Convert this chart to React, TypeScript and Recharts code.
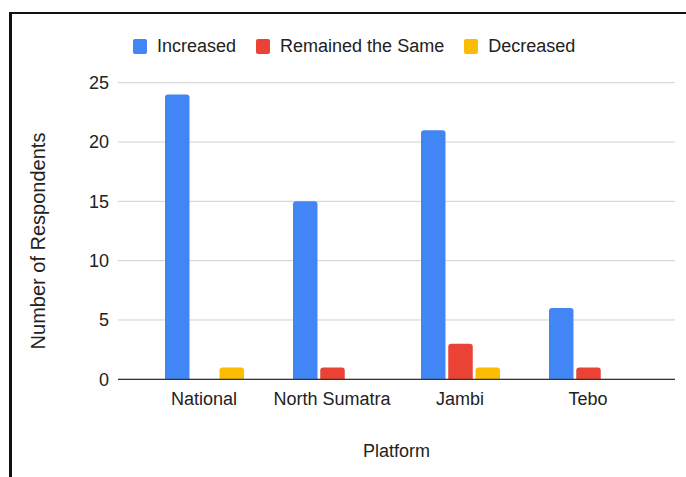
import React from "react";
import {
	BarChart,
	Bar,
	XAxis,
	YAxis,
	CartesianGrid,
	Legend,
	Label,
} from "recharts";

// Survey answers per platform
const platforms = ["National", "North Sumatra", "Jambi", "Tebo"];
const increased = [24, 15, 21, 6];
const remainedSame = [0, 1, 3, 1];
const decreased = [1, 0, 1, 0];
const yTicks = [0, 5, 10, 15, 20, 25];

const series = [
	{ key: "increased", name: "Increased", color: "#4285F4" },
	{ key: "remainedSame", name: "Remained the Same", color: "#EA4335" },
	{ key: "decreased", name: "Decreased", color: "#FBBC04" },
];

const data = platforms.map((platform, i) => ({
	platform,
	increased: increased[i],
	remainedSame: remainedSame[i],
	decreased: decreased[i],
}));

const FONT = "'Liberation Sans', Arial, sans-serif";
const TEXT = "#222";

// keep legend entries in series order
const order = (p: any) => series.findIndex((s) => s.name === p.value);

function LegendRow({ payload }: any) {
	const items = [...(payload || [])].sort((a, b) => order(a) - order(b));
	return (
		<div
			style={{
				display: "flex",
				alignItems: "center",
				height: 20,
				paddingLeft: 133,
				fontFamily: FONT,
				fontSize: 18,
				color: TEXT,
			}}
		>
			{items.map((p: any) => (
				<div
					key={p.value}
					style={{ display: "flex", alignItems: "center", marginRight: 20 }}
				>
					<span
						style={{
							width: 14,
							height: 15,
							borderRadius: 2,
							background: p.color,
							marginRight: 10,
						}}
					/>
					<span>{p.value}</span>
				</div>
			))}
		</div>
	);
}

function YTitle({ viewBox }: any) {
	const cx = viewBox.x + 5;
	const cy = viewBox.y + viewBox.height / 2 + 10;
	return (
		<text
			x={cx}
			y={cy}
			transform={`rotate(-90, ${cx}, ${cy})`}
			textAnchor='middle'
			dy='0.36em'
			fill={TEXT}
			fontSize={20}
			fontFamily={FONT}
		>
			Number of Respondents
		</text>
	);
}

export default function App() {
	return (
		<div
			style={{
				position: "absolute",
				left: 0,
				top: 0,
				width: 686,
				height: 477,
				background: "#fff",
				overflow: "hidden",
			}}
		>
			<div
				style={{
					position: "absolute",
					left: 9,
					top: 12,
					width: 700,
					height: 500,
					borderTop: "2.5px solid #111",
					borderLeft: "3px solid #111",
				}}
			/>
			<BarChart
				width={686}
				height={477}
				data={data}
				margin={{ top: 62.7, right: 11, bottom: 7.7, left: 33 }}
				barSize={24.5}
				barGap={2.75}
				style={{ position: "absolute", left: 0, top: 0, fontFamily: FONT }}
			>
				<CartesianGrid vertical={false} stroke='#d0d0d0' />
				<Legend
					verticalAlign='top'
					content={<LegendRow />}
					wrapperStyle={{ top: 36, left: 0, width: 686 }}
				/>
				<XAxis
					dataKey='platform'
					height={90}
					padding={{ left: 22, right: 23 }}
					tickLine={false}
					tickSize={0}
					tickMargin={13}
					axisLine={{ stroke: "#333", strokeWidth: 1.3 }}
					tick={{ fill: TEXT, fontSize: 18, fontFamily: FONT }}
				>
					<Label
						value='Platform'
						position='insideBottom'
						offset={12.3}
						fill={TEXT}
						fontSize={18}
						fontFamily={FONT}
					/>
				</XAxis>
				<YAxis
					width={85}
					domain={[0, 25]}
					ticks={yTicks}
					axisLine={false}
					tickLine={false}
					tickSize={0}
					tickMargin={9}
					tick={{ fill: TEXT, fontSize: 18, fontFamily: FONT }}
					label={<YTitle />}
				/>
				{series.map((s) => (
					<Bar
						key={s.key}
						dataKey={s.key}
						name={s.name}
						fill={s.color}
						radius={[3, 3, 0, 0]}
						isAnimationActive={false}
					/>
				))}
			</BarChart>
		</div>
	);
}
